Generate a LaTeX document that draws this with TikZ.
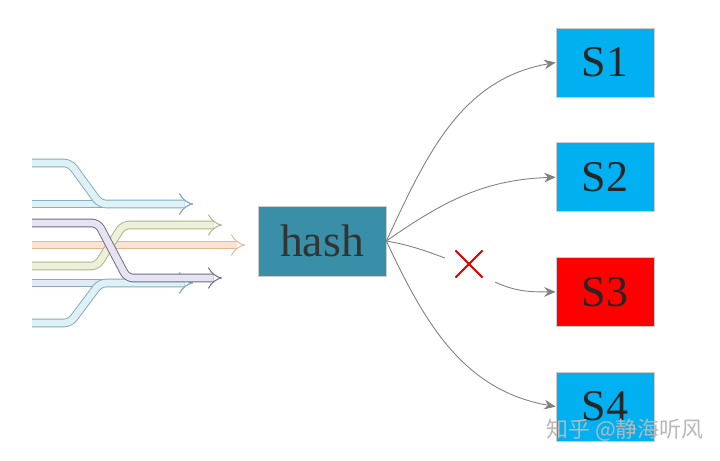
\documentclass[tikz,border=0pt]{standalone}
\usepackage{fontspec}
\setmainfont{Liberation Serif}
\newfontfamily\cjk{Noto Sans CJK SC}
\usetikzlibrary{positioning, arrows.meta, shapes.misc}

\definecolor{hashteal}{HTML}{3A8FA8}
\definecolor{serverblue}{HTML}{00B0F0}
\definecolor{serverred}{HTML}{FF0000}
\definecolor{cyanline}{HTML}{86AEBB}
\definecolor{cyanfill}{HTML}{DDF1F6}
\definecolor{purpleline}{HTML}{6E6C82}
\definecolor{purplefill}{HTML}{E6E3F2}
\definecolor{orangeline}{HTML}{E6B596}
\definecolor{orangefill}{HTML}{FBE3D3}
\definecolor{oliveline}{HTML}{AAB58B}
\definecolor{olivefill}{HTML}{EDF1DA}
\definecolor{blueline}{HTML}{8EA6BF}
\definecolor{bluefill}{HTML}{E2EBF5}

\begin{document}
\begin{tikzpicture}[
    server/.style={draw=black!20, minimum width=1.96cm, minimum height=1.38cm,
        font=\fontsize{25}{30}\selectfont, text=black!85},
    link/.style={draw=black!50, line width=0.5pt, -{Stealth[length=6.5pt, width=5.5pt]}},
    flow/.style={line width=0.55pt, double distance=3.8pt, rounded corners=3.5pt, -Implies},
]
    \useasboundingbox (0,0) rectangle (14.4,9.2);

    % incoming streams
    \draw[flow, draw=cyanline, double=cyanfill] (0.64,5.12) -- (3.86,5.12);
    \draw[flow, draw=cyanline, double=cyanfill] (0.64,5.94) -- (1.4,5.94) -- (2.0,5.12) -- (3.86,5.12);
    \draw[flow, draw=blueline, double=bluefill] (0.64,3.54) -- (3.86,3.54);
    \draw[flow, draw=cyanline, double=cyanfill] (0.64,2.74) -- (1.4,2.74) -- (2.0,3.54) -- (3.86,3.54);
    \draw[flow, draw=orangeline, double=orangefill] (0.64,4.3) -- (4.9,4.3);
    \draw[flow, draw=oliveline, double=olivefill] (0.64,3.88) -- (1.94,3.88) -- (2.46,4.7) -- (4.44,4.7);
    \draw[flow, draw=purpleline, double=purplefill] (0.64,4.74) -- (1.96,4.74) -- (2.54,3.64) -- (4.44,3.64);

    % hash and servers
    \node[draw=black!20, fill=hashteal, minimum width=2.56cm, minimum height=1.4cm,
        font=\fontsize{26}{30}\selectfont, text=black!80] (hash) at (6.44,4.38) {hash};

    \node[server, fill=serverblue] (s1) at (12.1,7.95) {S1};
    \node[server, fill=serverblue, below=0.9cm of s1] (s2) {S2};
    \node[server, fill=serverred, below=0.9cm of s2] (s3) {S3};
    \node[server, fill=serverblue, below=0.9cm of s3] (s4) {S4};

    % broken link
    \node[cross out, draw=red!85!black, line width=1.2pt, minimum size=0.5cm] (cut) at (9.38,3.92) {};
    \coordinate (cutin) at (8.9,4.04);
    \coordinate (cutout) at (9.9,3.56);

    \draw[link] (hash.east) to[out=65, in=190] (s1.west);
    \draw[link] (hash.east) to[out=35, in=182] (s2.west);
    \draw[link, -] (hash.east) to[out=-10, in=160] (cutin);
    \draw[link] (cutout) to[out=-25, in=180] (s3.west);
    \draw[link] (hash.east) to[out=-65, in=170] (s4.west);

    % watermark
    \node[text=black!28, font=\cjk\fontsize{12.5}{15}\selectfont] (mark) at (12.5,0.6) {知乎 @静海听风};
\end{tikzpicture}
\end{document}
